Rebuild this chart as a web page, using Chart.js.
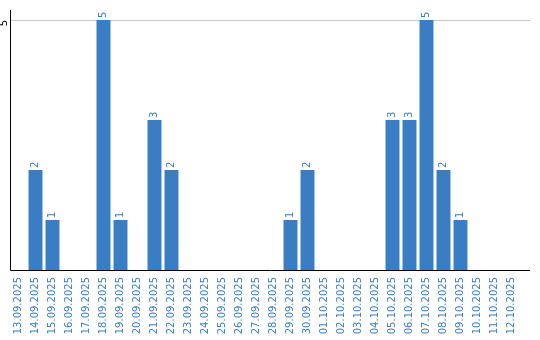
<!DOCTYPE html>
<html>
<head>
<meta charset="utf-8">
<script src="https://cdn.jsdelivr.net/npm/chart.js@4/dist/chart.umd.min.js"></script>
<style>
html,body{margin:0;padding:0;background:#fff;}
#wrap{width:540px;height:340px;position:relative;}
</style>
</head>
<body>
<div id="wrap"><canvas id="c" width="540" height="340"></canvas></div>
<script>
const categories = ["13.09.2025","14.09.2025","15.09.2025","16.09.2025","17.09.2025","18.09.2025","19.09.2025","20.09.2025","21.09.2025","22.09.2025","23.09.2025","24.09.2025","25.09.2025","26.09.2025","27.09.2025","28.09.2025","29.09.2025","30.09.2025","01.10.2025","02.10.2025","03.10.2025","04.10.2025","05.10.2025","06.10.2025","07.10.2025","08.10.2025","09.10.2025","10.10.2025","11.10.2025","12.10.2025"];
const values = [0,2,1,0,0,5,1,0,3,2,0,0,0,0,0,0,1,2,0,0,0,0,3,3,5,2,1,0,0,0];
const yTicks = [5];

const BLUE = '#3b7dc3';
const FONT = '10px "DejaVu Sans", Verdana, sans-serif';

const decor = {
  id: 'decor',
  beforeDatasetsDraw(chart) {
    const {ctx, chartArea} = chart;
    const y = chart.scales.y;
    ctx.save();
    ctx.strokeStyle = '#c8c8c8';
    ctx.lineWidth = 1;
    yTicks.forEach(v => {
      const py = Math.round(y.getPixelForValue(v)) + 0.5;
      ctx.beginPath();
      ctx.moveTo(chartArea.left, py);
      ctx.lineTo(chartArea.right + 10, py);
      ctx.stroke();
    });
    ctx.restore();
  },
  afterDatasetsDraw(chart) {
    const {ctx, chartArea} = chart;
    const y = chart.scales.y;
    ctx.save();
    // axes
    ctx.strokeStyle = '#000';
    ctx.lineWidth = 1;
    ctx.beginPath();
    const bx = Math.round(chartArea.left) + 0.5;
    const by = Math.round(chartArea.bottom) + 0.5;
    ctx.moveTo(bx, chartArea.top);
    ctx.lineTo(bx, by);
    ctx.lineTo(chartArea.right + 10, by);
    ctx.stroke();
    // y tick labels rotated
    ctx.font = FONT;
    ctx.fillStyle = '#000';
    yTicks.forEach(v => {
      const py = y.getPixelForValue(v);
      ctx.save();
      ctx.translate(4.5, py);
      ctx.rotate(-Math.PI / 2);
      ctx.textAlign = 'right';
      ctx.textBaseline = 'middle';
      ctx.fillText(String(v), 0, 0);
      ctx.restore();
    });
    // data labels
    ctx.fillStyle = BLUE;
    const meta = chart.getDatasetMeta(0);
    meta.data.forEach((bar, i) => {
      const v = values[i];
      if (!v) return;
      ctx.save();
      ctx.translate(bar.x, bar.y - 2);
      ctx.rotate(-Math.PI / 2);
      ctx.textAlign = 'left';
      ctx.textBaseline = 'middle';
      ctx.fillText(String(v), 0, 0);
      ctx.restore();
    });
    ctx.restore();
  }
};

new Chart(document.getElementById('c'), {
  type: 'bar',
  data: {
    labels: categories,
    datasets: [{
      data: values,
      backgroundColor: BLUE,
      borderWidth: 0,
      categoryPercentage: 1,
      barPercentage: 0.82
    }]
  },
  options: {
    responsive: false,
    animation: false,
    layout: { padding: { left: 10, right: 20, top: 10, bottom: 0 } },
    plugins: { legend: { display: false }, tooltip: { enabled: false } },
    scales: {
      x: {
        grid: { display: false, drawTicks: false },
        border: { display: false },
        ticks: {
          color: BLUE,
          font: { family: '"DejaVu Sans", Verdana, sans-serif', size: 10 },
          minRotation: 90, maxRotation: 90,
          autoSkip: false,
          padding: 7
        },
        afterFit(s) { s.height = 70; }
      },
      y: {
        min: 0, max: 5.2,
        grid: { display: false },
        border: { display: false },
        ticks: { display: false },
        afterFit(s) { s.width = 0; }
      }
    }
  },
  plugins: [decor]
});
</script>
</body>
</html>
